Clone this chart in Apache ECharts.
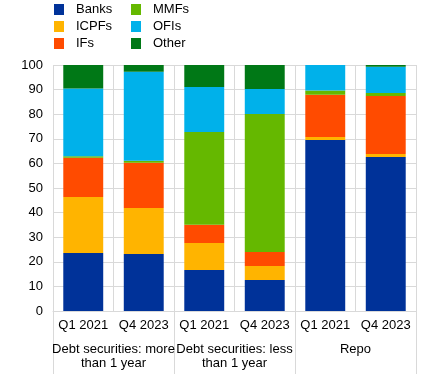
<!DOCTYPE html>
<html>
<head>
<meta charset="utf-8">
<script src="https://cdn.jsdelivr.net/npm/echarts@6/dist/echarts.min.js"></script>
<style>html,body{margin:0;padding:0;background:#fff}#c{width:436px;height:374px}</style>
</head>
<body>
<div id="c"></div>
<script>
var categories = ['Q1 2021', 'Q4 2023', 'Q1 2021', 'Q4 2023', 'Q1 2021', 'Q4 2023'];
var groups = ['Debt securities: more\nthan 1 year', 'Debt securities: less\nthan 1 year', 'Repo'];
var banks = [23.6, 23.2, 16.7, 12.6, 69.5, 62.6];
var icpfs = [22.7, 18.7, 10.9, 5.7, 1.2, 1.2];
var ifs = [16.0, 18.4, 7.5, 5.7, 17.2, 23.6];
var mmfs = [0.6, 0.8, 37.7, 56.1, 1.7, 1.2];
var ofis = [27.5, 36.2, 18.3, 10.1, 10.4, 10.7];
var other = [9.6, 2.7, 8.9, 9.8, 0, 0.7];
var yTicks = [0, 10, 20, 30, 40, 50, 60, 70, 80, 90, 100];

var names = ['Banks', 'ICPFs', 'IFs', 'MMFs', 'OFIs', 'Other'];
var colors = ['#003299', '#ffb400', '#ff4b00', '#65b800', '#00b1ea', '#007816'];
var values = [banks, icpfs, ifs, mmfs, ofis, other];
var font = 'Liberation Sans, Arial, sans-serif';
var grey = '#d9d9d9';

var chart = echarts.init(document.getElementById('c'));
var legendCommon = {
  orient: 'vertical', top: 3, padding: 0, itemWidth: 10, itemHeight: 11, itemGap: 4,
  icon: 'rect',
  textStyle: { fontFamily: font, fontSize: 13, color: '#000', padding: [0, 0, 0, 7] }
};
chart.setOption({
  animation: false,
  color: colors,
  legend: [
    Object.assign({}, legendCommon, { left: 54, data: names.slice(0, 3) }),
    Object.assign({}, legendCommon, { left: 131, data: names.slice(3) })
  ],
  grid: { left: 53, right: 20, top: 65, bottom: 63, containLabel: false },
  xAxis: [
    {
      type: 'category', data: categories, position: 'bottom',
      axisLine: { show: true, lineStyle: { color: grey } },
      axisTick: { show: false },
      axisLabel: { interval: 0, margin: 8, fontFamily: font, fontSize: 13, color: '#000' },
      splitLine: { show: true, interval: 0, lineStyle: { color: grey } }
    },
    {
      type: 'category', data: groups, position: 'bottom',
      axisLine: { show: false },
      axisTick: { show: true, length: 63, lineStyle: { color: grey } },
      axisLabel: { interval: 0, margin: 31, fontFamily: font, fontSize: 13, color: '#000', lineHeight: 14 },
      splitLine: { show: false }
    }
  ],
  yAxis: {
    type: 'value', min: 0, max: 100, interval: 10,
    axisLine: { show: false }, axisTick: { show: false },
    axisLabel: { margin: 10, fontFamily: font, fontSize: 13, color: '#000' },
    splitLine: { lineStyle: { color: grey } }
  },
  series: names.map(function (n, i) {
    return { name: n, type: 'bar', stack: 's', barWidth: '66%', data: values[i], xAxisIndex: 0 };
  })
});
</script>
</body>
</html>
